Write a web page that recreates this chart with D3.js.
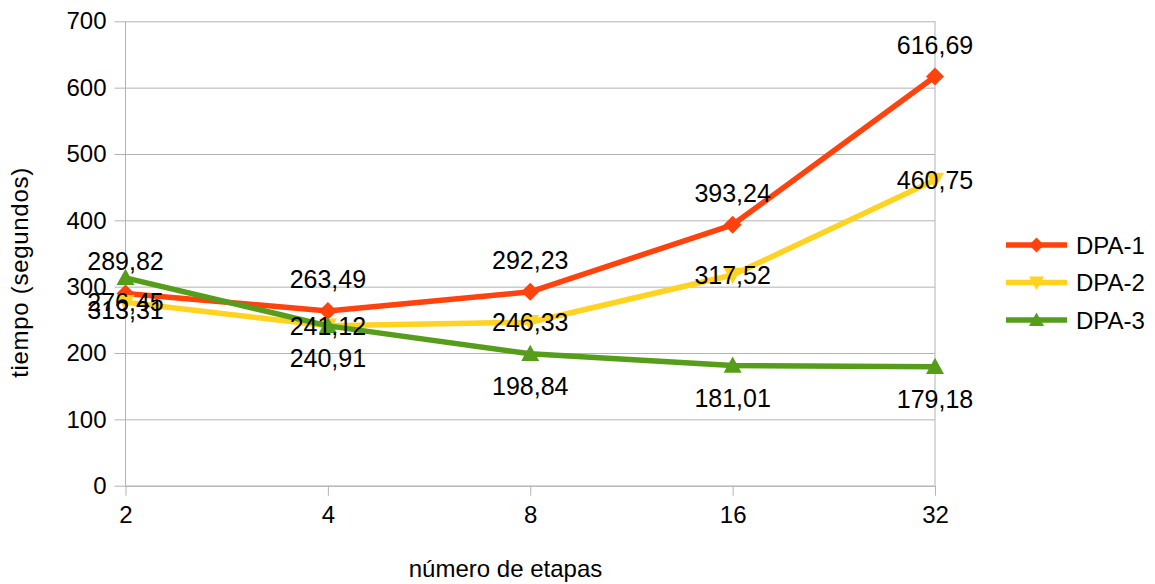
<!DOCTYPE html>
<html>
<head>
<meta charset="utf-8">
<script src="https://cdn.jsdelivr.net/npm/d3@7"></script>
<style>
  html, body { margin: 0; padding: 0; background: #fff; }
  svg { display: block; font-family: "Liberation Sans", Arial, sans-serif; }
</style>
</head>
<body>
<svg id="chart" width="1155" height="584"></svg>
<script>
// Number of stages (categories on the x axis)
const categories = ["2", "4", "8", "16", "32"];
// Time in seconds for each series
const dpa1 = [289.82, 263.49, 292.23, 393.24, 616.69];
const dpa2 = [276.45, 241.12, 246.33, 317.52, 460.75];
const dpa3 = [313.31, 240.91, 198.84, 181.01, 179.18];
const seriesNames = ["DPA-1", "DPA-2", "DPA-3"];
const yTicks = [0, 100, 200, 300, 400, 500, 600, 700];

const series = [
  { name: seriesNames[0], values: dpa1, color: "#ff420e", marker: "diamond", label: "above" },
  { name: seriesNames[1], values: dpa2, color: "#ffd320", marker: "down", label: "center" },
  { name: seriesNames[2], values: dpa3, color: "#579d1c", marker: "up", label: "below" }
];

const svg = d3.select("#chart");
const plotLeft = 125.5, plotRight = 935, plotTop = 21.3, plotBottom = 485.7;

const x = d3.scalePoint().domain(categories).range([plotLeft, plotRight]);
const y = d3.scaleLinear().domain([0, 700]).range([plotBottom, plotTop]);

const fmt = v => d3.format(".2f")(v).replace(".", ",");
const gridColor = "#b3b3b3";

// Horizontal grid lines with outer tick marks
const yAxis = svg.append("g").attr("transform", `translate(${plotLeft},0)`)
  .call(d3.axisLeft(y).tickValues(yTicks).tickSize(11).tickPadding(8).tickFormat(d3.format("d")));
yAxis.select(".domain").remove();
yAxis.selectAll(".tick line").attr("stroke", gridColor).attr("x2", plotRight - plotLeft).attr("x1", -11);
yAxis.selectAll(".tick text").attr("font-size", 24).attr("fill", "#000")
  .attr("font-family", "Liberation Sans, Arial, sans-serif");

// Left and right walls of the plot area
svg.append("line").attr("x1", plotLeft).attr("x2", plotLeft).attr("y1", plotTop).attr("y2", plotBottom)
  .attr("stroke", gridColor);
svg.append("line").attr("x1", plotRight).attr("x2", plotRight).attr("y1", plotTop).attr("y2", plotBottom)
  .attr("stroke", gridColor);

// Category axis
const xAxis = svg.append("g").attr("transform", `translate(0,${plotBottom})`)
  .call(d3.axisBottom(x).tickSize(10).tickPadding(10));
xAxis.select(".domain").attr("stroke", gridColor).attr("d", `M${plotLeft},0.5H${plotRight}`);
xAxis.selectAll(".tick line").attr("stroke", gridColor);
xAxis.selectAll(".tick text").attr("font-size", 24).attr("fill", "#000")
  .attr("font-family", "Liberation Sans, Arial, sans-serif");

// Marker shapes
function markerPath(type, r) {
  if (type === "diamond") return `M0,${-r}L${r},0L0,${r}L${-r},0Z`;
  if (type === "up") return `M0,${-r}L${r},${r * 0.8}L${-r},${r * 0.8}Z`;
  return `M0,${r}L${r},${-r * 0.8}L${-r},${-r * 0.8}Z`;
}

const line = d3.line().x((d, i) => x(categories[i])).y(d => y(d));

series.forEach(s => {
  const g = svg.append("g");
  g.append("path").datum(s.values).attr("d", line)
    .attr("fill", "none").attr("stroke", s.color).attr("stroke-width", 5.5)
    .attr("stroke-linejoin", "round");
  g.selectAll("path.m").data(s.values).join("path").attr("class", "m")
    .attr("transform", (d, i) => `translate(${x(categories[i])},${y(d)})`)
    .attr("d", markerPath(s.marker, 9)).attr("fill", s.color);
});

// Value labels
series.forEach(s => {
  const dy = s.label === "above" ? -32 : s.label === "below" ? 32 : 0;
  svg.append("g").selectAll("text").data(s.values).join("text")
    .attr("x", (d, i) => x(categories[i]))
    .attr("y", d => y(d) + dy)
    .attr("text-anchor", "middle").attr("dominant-baseline", "central")
    .attr("font-size", 25).attr("fill", "#000")
    .text(d => fmt(d));
});

// Axis titles
svg.append("text").attr("x", 505.5).attr("y", 577).attr("text-anchor", "middle")
  .attr("font-size", 24).attr("fill", "#000").text("número de etapas");
svg.append("text").attr("transform", "translate(28,272.5) rotate(-90)").attr("text-anchor", "middle")
  .attr("font-size", 24).attr("letter-spacing", 0.7).attr("fill", "#000").text("tiempo (segundos)");

// Legend
const legend = svg.append("g");
series.forEach((s, i) => {
  const ly = 245 + i * 37.5;
  legend.append("line").attr("x1", 1006).attr("x2", 1067).attr("y1", ly).attr("y2", ly)
    .attr("stroke", s.color).attr("stroke-width", 5.5);
  legend.append("path").attr("transform", `translate(1036.5,${ly})`)
    .attr("d", markerPath(s.marker, 7.5)).attr("fill", s.color);
  legend.append("text").attr("x", 1076).attr("y", ly).attr("dominant-baseline", "central")
    .attr("font-size", 24).attr("fill", "#000").text(s.name);
});
</script>
</body>
</html>
